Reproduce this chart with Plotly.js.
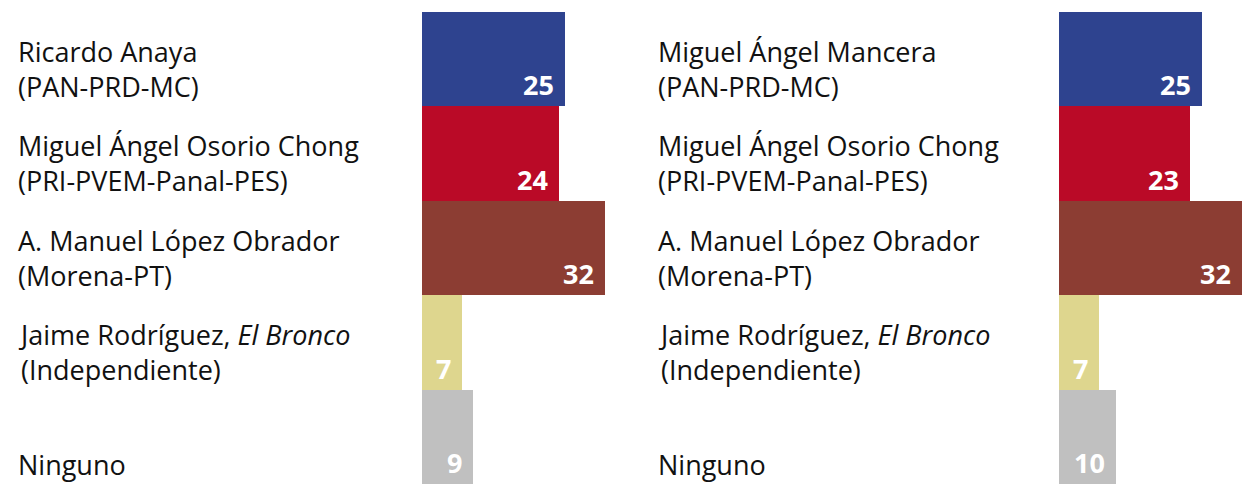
<!DOCTYPE html>
<html>
<head>
<meta charset="utf-8">
<script src="https://cdn.plot.ly/plotly-3.0.1.min.js"></script>
<style>
  html, body { margin: 0; padding: 0; background: #fff; }
  #chart { width: 1253px; height: 486px; }
</style>
</head>
<body>
<div id="chart"></div>
<script>
// ---- data ----
const leftLabels = [
  "Ricardo Anaya<br>(PAN-PRD-MC)",
  "Miguel Ángel Osorio Chong<br>(PRI-PVEM-Panal-PES)",
  "A. Manuel López Obrador<br>(Morena-PT)",
  "Jaime Rodríguez, <i>El Bronco</i><br>(Independiente)",
  "Ninguno"
];
const leftValues = [25, 24, 32, 7, 9];

const rightLabels = [
  "Miguel Ángel Mancera<br>(PAN-PRD-MC)",
  "Miguel Ángel Osorio Chong<br>(PRI-PVEM-Panal-PES)",
  "A. Manuel López Obrador<br>(Morena-PT)",
  "Jaime Rodríguez, <i>El Bronco</i><br>(Independiente)",
  "Ninguno"
];
const rightValues = [25, 23, 32, 7, 10];

const barColors = ["#2E438F", "#BA0A27", "#8C3D33", "#DED68E", "#C0C0C0"];

// ---- chart ----
const W = 1253;
const FONT = "Open Sans, Noto Sans, sans-serif";
const pos = leftValues.map((_, i) => i);

function barTrace(values, xa) {
  return {
    type: "bar",
    orientation: "h",
    x: values,
    y: pos,
    width: 1,
    xaxis: xa,
    yaxis: "y",
    marker: { color: barColors, line: { width: 0 } },
    hoverinfo: "skip",
    showlegend: false
  };
}

const annotations = [];
function addPanel(labels, values, xref, labelX) {
  labels.forEach((t, i) => {
    const twoLines = t.indexOf("<br>") >= 0;
    annotations.push({
      text: t, xref: "paper", x: labelX / W, xanchor: "left",
      yref: "y", y: i + 0.5, yanchor: "bottom", yshift: twoLines ? -0.5 : -1.4,
      align: "left", showarrow: false,
      font: { family: FONT, size: 27, color: "#111111" }
    });
  });
  values.forEach((v, i) => {
    annotations.push({
      text: "<b>" + v + "</b>", xref: xref, x: v, xanchor: "right", xshift: -9,
      yref: "y", y: i + 0.5, yanchor: "bottom", yshift: 1,
      showarrow: false,
      font: { family: FONT, size: 27, color: "#ffffff" }
    });
  });
}
addPanel(leftLabels, leftValues, "x", 16);
addPanel(rightLabels, rightValues, "x2", 656);

const layout = {
  width: 1253, height: 486,
  margin: { l: 0, r: 0, t: 12, b: 2, pad: 0 },
  paper_bgcolor: "#ffffff", plot_bgcolor: "#ffffff",
  bargap: 0,
  showlegend: false,
  xaxis: { domain: [422 / W, 616 / W], range: [0, 34], visible: false, fixedrange: true, anchor: "y" },
  xaxis2: { domain: [1059 / W, 1253 / W], range: [0, 34], visible: false, fixedrange: true, anchor: "y" },
  yaxis: { range: [4.5, -0.5], visible: false, fixedrange: true },
  annotations: annotations
};

Plotly.newPlot("chart", [barTrace(leftValues, "x"), barTrace(rightValues, "x2")], layout,
  { displayModeBar: false, staticPlot: true });
</script>
</body>
</html>
